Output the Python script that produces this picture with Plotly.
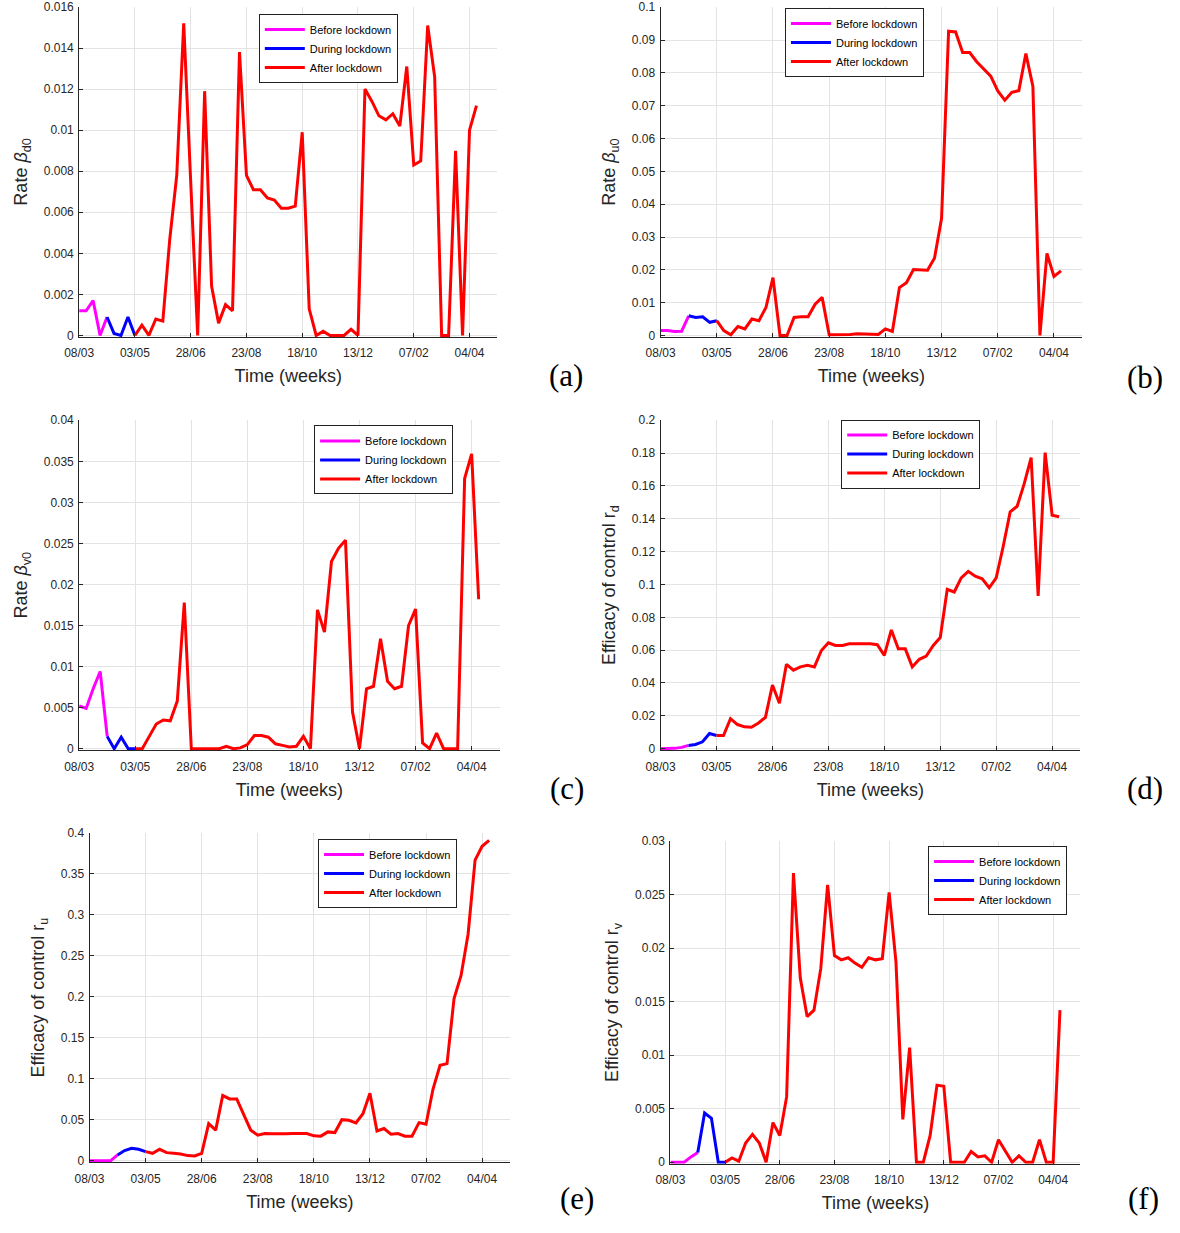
import plotly.graph_objects as go

# ---------------- data ----------------
WEEKS = list(range(58))  # weekly samples starting 08/03
TICK_WEEKS = [0, 8, 16, 24, 32, 40, 48, 56]
TICK_LABELS = ["08/03", "03/05", "28/06", "23/08", "18/10", "13/12", "07/02", "04/04"]
BEFORE_END = 4     # index where lockdown starts
DURING_END = 8     # index where lockdown ends
SERIES_NAMES = ["Before lockdown", "During lockdown", "After lockdown"]

BETA_D0 = [0.0012, 0.0012, 0.0017, 0.0, 0.0009, 0.0001, 0.0, 0.0009, 0.0, 0.0005,
           0.0, 0.0008, 0.0007, 0.0047, 0.0078, 0.0152, 0.0075, 0.0, 0.0119, 0.0024,
           0.0006, 0.0015, 0.0012, 0.0138, 0.0078, 0.0071, 0.0071, 0.0067, 0.0066, 0.0062,
           0.0062, 0.0063, 0.0099, 0.0013, 0.0, 0.0002, 0.0, 0.0, 0.0, 0.0003,
           0.0, 0.0120, 0.0114, 0.0107, 0.0105, 0.0108, 0.0102, 0.0131, 0.0083, 0.0085,
           0.0151, 0.0126, 0.0, 0.0, 0.0090, 0.0, 0.0100, 0.0112]

BETA_U0 = [0.0015, 0.0015, 0.0012, 0.0013, 0.0060, 0.0055, 0.0057, 0.0040, 0.0045, 0.0015,
           0.0002, 0.0027, 0.0020, 0.0050, 0.0045, 0.0085, 0.0176, 0.0, 0.0, 0.0055,
           0.0057, 0.0057, 0.0095, 0.0116, 0.0002, 0.0002, 0.0003, 0.0003, 0.0005, 0.0004,
           0.0003, 0.0003, 0.0020, 0.0012, 0.0146, 0.0161, 0.0201, 0.0201, 0.0199, 0.0236,
           0.0357, 0.0927, 0.0925, 0.0862, 0.0862, 0.0834, 0.0812, 0.0790, 0.0745, 0.0717,
           0.0741, 0.0746, 0.0859, 0.0759, 0.0, 0.0250, 0.0180, 0.0197]

BETA_V0 = [0.0052, 0.0049, 0.0073, 0.0094, 0.0015, 0.0, 0.0014, 0.0, 0.0, 0.0,
           0.0015, 0.0030, 0.0035, 0.0034, 0.0058, 0.0178, 0.0, 0.0, 0.0, 0.0,
           0.0, 0.0003, 0.0, 0.0001, 0.0005, 0.0016, 0.0016, 0.0014, 0.0006, 0.0004,
           0.0002, 0.0003, 0.0015, 0.0, 0.0169, 0.0142, 0.0228, 0.0244, 0.0254, 0.0045,
           0.0, 0.0073, 0.0076, 0.0134, 0.0082, 0.0073, 0.0076, 0.0150, 0.0170, 0.0007,
           0.0, 0.0019, 0.0, 0.0, 0.0, 0.0329, 0.0359, 0.0182]

R_D = [0.0, 0.0, 0.0002, 0.0008, 0.0020, 0.0026, 0.0042, 0.0092, 0.0080, 0.0080,
       0.0183, 0.0147, 0.0133, 0.0130, 0.0157, 0.0191, 0.0388, 0.0277, 0.0514, 0.0478,
       0.0498, 0.0508, 0.0498, 0.0598, 0.0645, 0.0629, 0.0629, 0.0639, 0.0639, 0.0639,
       0.0639, 0.0633, 0.0568, 0.0723, 0.0608, 0.0608, 0.0498, 0.0544, 0.0564, 0.0629,
       0.0677, 0.0970, 0.0954, 0.1040, 0.1080, 0.1050, 0.1034, 0.0980, 0.1040, 0.1231,
       0.1442, 0.1476, 0.1612, 0.1773, 0.0930, 0.1803, 0.1422, 0.1412]

R_U = [0.0, 0.0, 0.0, 0.0, 0.0072, 0.0125, 0.0153, 0.0141, 0.0112, 0.0092,
       0.0141, 0.0100, 0.0092, 0.0084, 0.0064, 0.0060, 0.0092, 0.0454, 0.0374, 0.0796,
       0.0755, 0.0755, 0.0563, 0.0374, 0.0313, 0.0333, 0.0329, 0.0325, 0.0329, 0.0333,
       0.0333, 0.0333, 0.0305, 0.0301, 0.0353, 0.0345, 0.0502, 0.0494, 0.0462, 0.0574,
       0.0823, 0.0365, 0.0394, 0.0325, 0.0333, 0.0301, 0.0301, 0.0466, 0.0446, 0.0876,
       0.1165, 0.1185, 0.1980, 0.2261, 0.2763, 0.3667, 0.3835, 0.3908]

R_V = [0.0, 0.0, 0.0, 0.0005, 0.0009, 0.0046, 0.0041, 0.0, 0.0, 0.0004,
       0.0001, 0.0018, 0.0026, 0.0018, 0.0, 0.0037, 0.0025, 0.0061, 0.0270, 0.0172,
       0.0136, 0.0142, 0.0181, 0.0259, 0.0193, 0.0189, 0.0191, 0.0186, 0.0182, 0.0191,
       0.0189, 0.0190, 0.0252, 0.0187, 0.0040, 0.0107, 0.0, 0.0, 0.0025, 0.0072,
       0.0071, 0.0, 0.0, 0.0, 0.0010, 0.0005, 0.0006, 0.0, 0.0021, 0.0011,
       0.0, 0.0006, 0.0, 0.0, 0.0021, 0.0, 0.0, 0.0142]

Y_TITLES = ["Rate <i>β</i><sub>d0</sub>", "Rate <i>β</i><sub>u0</sub>", "Rate <i>β</i><sub>v0</sub>",
            "Efficacy of control r<sub>d</sub>", "Efficacy of control r<sub>u</sub>",
            "Efficacy of control r<sub>v</sub>"]
Y_MAX = [0.016, 0.1, 0.04, 0.2, 0.4, 0.03]
Y_DTICK = [0.002, 0.01, 0.005, 0.02, 0.05, 0.005]
PANEL_LABELS = ["(a)", "(b)", "(c)", "(d)", "(e)", "(f)"]
X_TITLE = "Time (weeks)"

# ---------------- layout (pixels, page coordinates) ----------------
PAGE_W, PAGE_H = 1180, 1233
BODY = 8                      # default page margin around the figure div
W, H = PAGE_W - 2 * BODY, PAGE_H - 2 * BODY
# plot area boxes: left, right, top, bottom (page px)
BOXES = [(73.0, 496.7, 8.0, 340.0), (662.0, 1089.0, 8.3, 340.0),
         (73.0, 499.0, 425.7, 757.7), (662.0, 1087.0, 425.7, 757.7),
         (83.5, 509.6, 842.7, 1174.3), (672.0, 1087.4, 851.0, 1175.7)]
LEGEND_POS = [(255, 15), (788, 9), (311, 431), (845, 425), (315, 849), (933, 856)]
LABEL_POS = [(566, 380), (1153, 382), (567, 798), (1153, 798), (577, 1212), (1151, 1212)]
COLORS = ["#ff00ff", "#0000ff", "#ff0000"]
INK = "#262626"
GRID = "#e3e3e3"
FONT = "Liberation Sans, Arial, sans-serif"


def clamp(v):
    return min(1.0, max(0.0, v))


def fx(px):
    return clamp((px - BODY) / W)


def fy(py):
    return clamp(1 - (py - BODY) / H)


values_list = [BETA_D0, BETA_U0, BETA_V0, R_D, R_U, R_V]
segments = [(0, BEFORE_END), (BEFORE_END, DURING_END), (DURING_END, len(WEEKS) - 1)]

fig = go.Figure()
layout = dict(width=W, height=H, margin=dict(l=0, r=0, t=0, b=0),
              paper_bgcolor="white", plot_bgcolor="white",
              font=dict(family=FONT, color=INK), annotations=[])

for i, vals in enumerate(values_list):
    n = "" if i == 0 else str(i + 1)
    leg = "legend" if i == 0 else "legend" + str(i + 1)
    for k, (s, e) in enumerate(segments):
        fig.add_trace(go.Scatter(
            x=WEEKS[s:e + 1], y=vals[s:e + 1], mode="lines",
            line=dict(color=COLORS[k], width=3),
            name=SERIES_NAMES[k], legend=leg, showlegend=True,
            xaxis="x" + n, yaxis="y" + n, hoverinfo="skip"))
    l, r, t, b = BOXES[i]
    pad_px = 1.5
    ypad = Y_MAX[i] * pad_px / (b - t)
    layout["xaxis" + n] = dict(
        domain=[fx(l), fx(r)], anchor="y" + n, range=[0, 60],
        tickmode="array", tickvals=TICK_WEEKS, ticktext=TICK_LABELS,
        showgrid=True, gridcolor=GRID, gridwidth=1, zeroline=False,
        showline=True, linecolor=INK, linewidth=1,
        ticks="inside", ticklen=4, tickcolor=INK, ticklabelstandoff=5,
        tickfont=dict(size=12, color=INK, family=FONT),
        title=dict(text=X_TITLE, font=dict(size=18, color=INK, family=FONT), standoff=10))
    layout["yaxis" + n] = dict(
        domain=[fy(b + pad_px), fy(t)], anchor="x" + n,
        range=[-ypad, Y_MAX[i]], tick0=0, dtick=Y_DTICK[i],
        showgrid=True, gridcolor=GRID, gridwidth=1, zeroline=False,
        showline=True, linecolor=INK, linewidth=1,
        ticks="inside", ticklen=4, tickcolor=INK, ticklabelstandoff=2,
        tickfont=dict(size=12, color=INK, family=FONT),
        title=dict(text=Y_TITLES[i], font=dict(size=18, color=INK, family=FONT), standoff=11))
    lx, ly = LEGEND_POS[i]
    layout[leg] = dict(x=fx(lx), y=fy(ly), xanchor="left", yanchor="top",
                       bgcolor="white", bordercolor="#222222", borderwidth=1,
                       font=dict(size=11, color="black", family=FONT),
                       itemwidth=40, tracegroupgap=0)
    px_, py_ = LABEL_POS[i]
    layout["annotations"].append(dict(
        text=PANEL_LABELS[i], x=fx(px_), y=fy(py_), xref="paper", yref="paper",
        xanchor="center", yanchor="middle", showarrow=False,
        font=dict(size=31, color="black", family="Liberation Serif, serif")))

fig.update_layout(**layout)
fig.write_html("out.html")
